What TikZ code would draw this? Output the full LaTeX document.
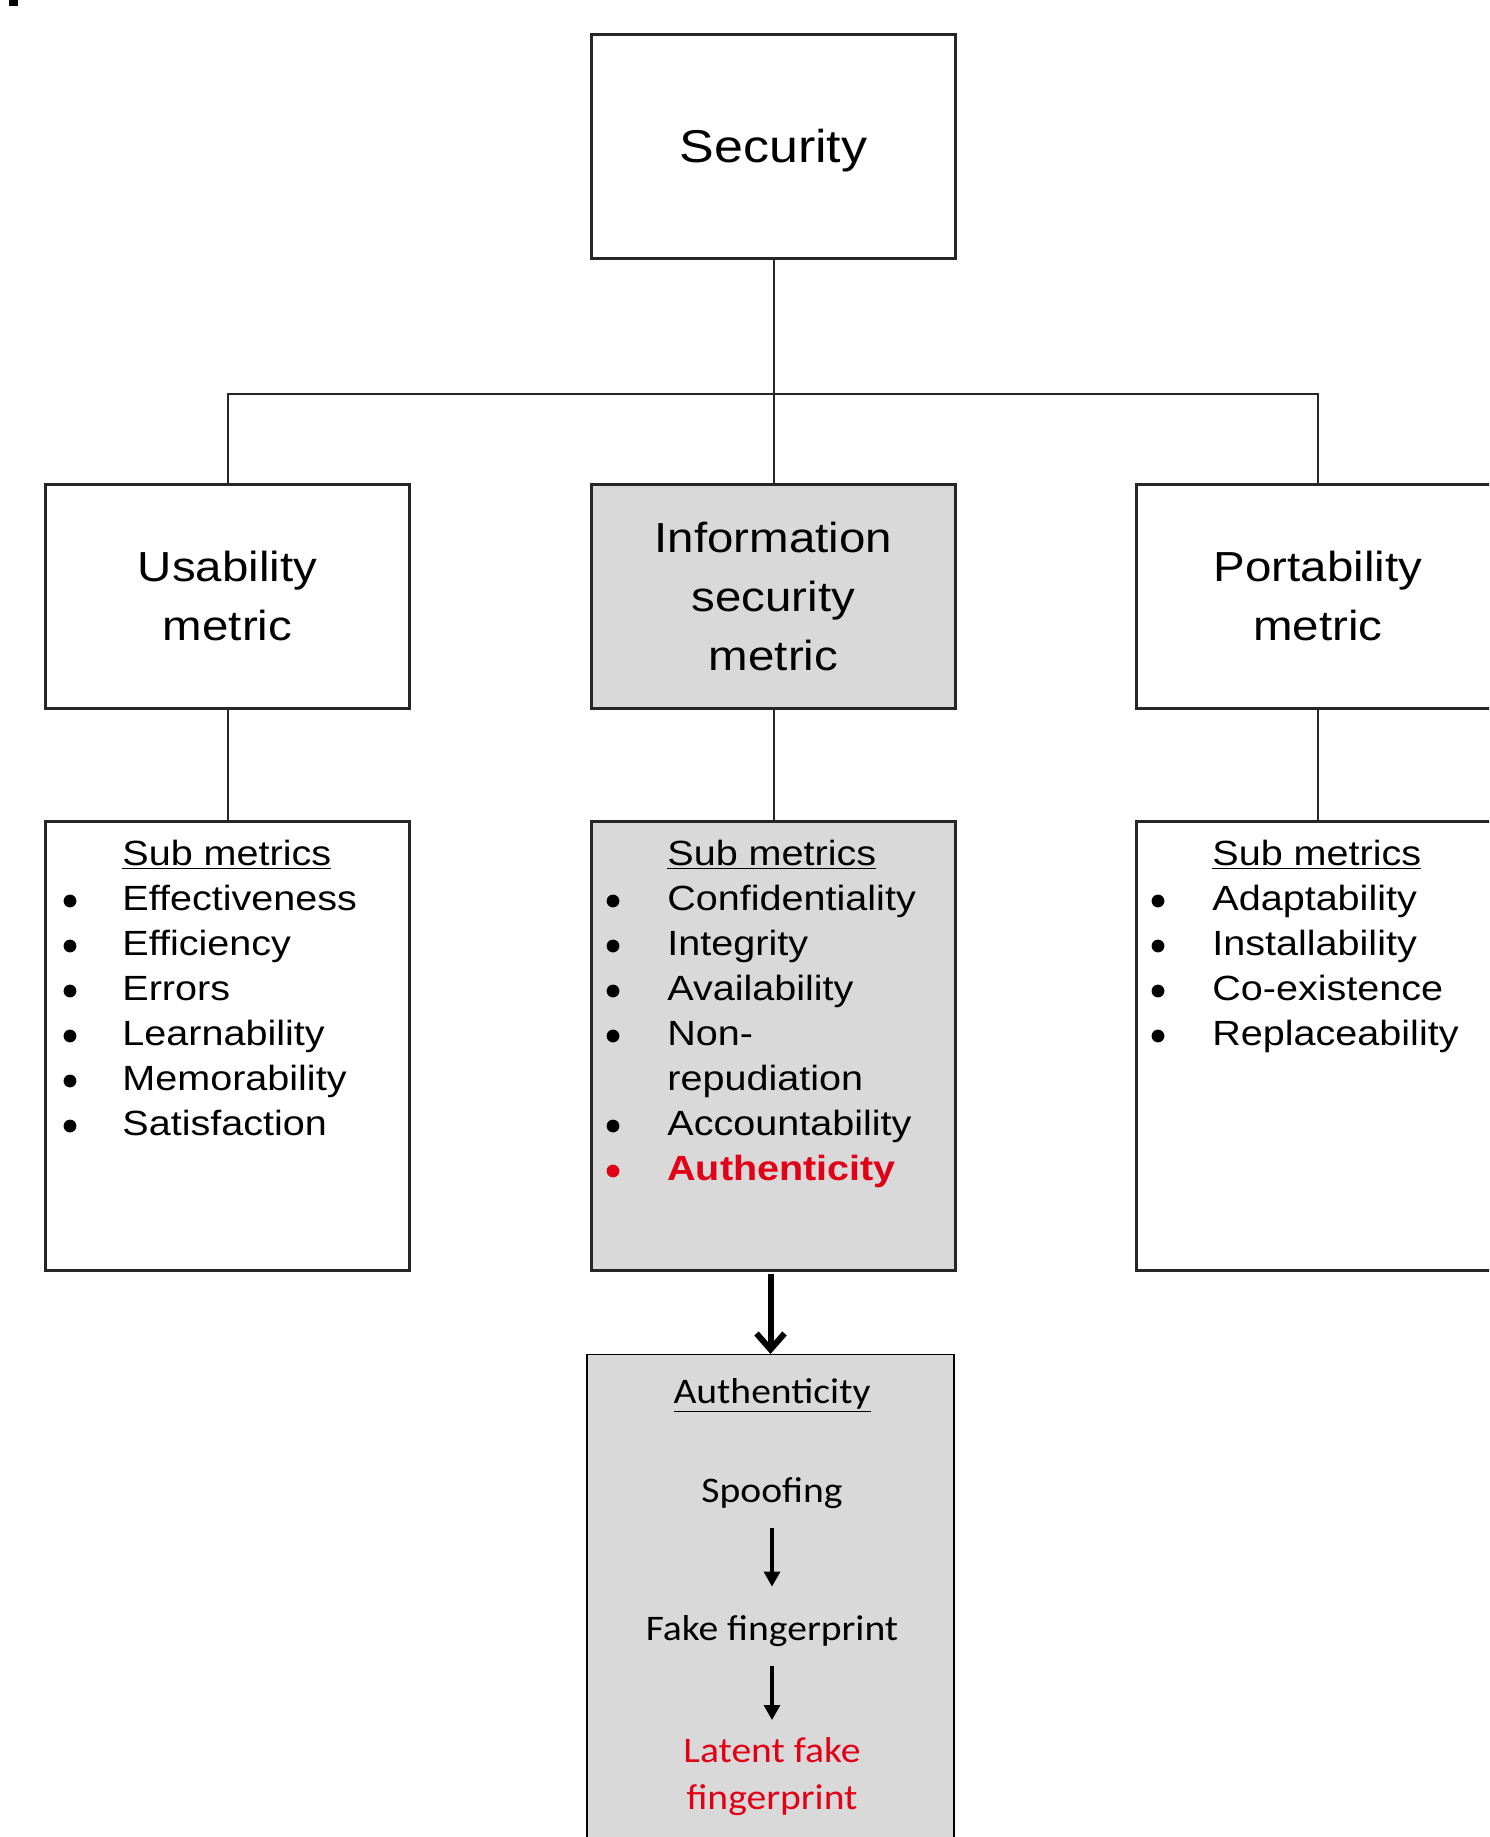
\documentclass[tikz,border=0pt]{standalone}
\usepackage{fontspec}
\setmainfont{Liberation Sans}[FakeStretch=1.13]
\newfontfamily\calibri{Carlito}[FakeStretch=1.1]
\usepackage{tikz}
\usetikzlibrary{arrows.meta, positioning}
\definecolor{boxBlack}{gray}{0.15}
\definecolor{panelGray}{gray}{0.85}
\definecolor{alertRed}{RGB}{226,0,22}

\begin{document}
\begin{tikzpicture}[x=0.5pt, y=0.5pt, >={Triangle[length=7.5pt,width=8pt]},
    metric/.style={draw=boxBlack, line width=1.5pt, minimum width=182pt, minimum height=112pt,
        align=center, inner sep=0pt, font=\fontsize{21}{29.5}\selectfont},
    subbox/.style={draw=boxBlack, line width=1.5pt, minimum width=182pt, minimum height=224.5pt, inner sep=0pt},
    sublist/.style={anchor=base west, inner sep=0pt, font=\fontsize{17.5}{22.5}\selectfont},
    listdot/.style={fill=black},
    link/.style={line width=1pt, boxBlack},
    authtext/.style={inner sep=0pt, font=\calibri\fontsize{18}{20.5}\selectfont},
    flow/.style={->, line width=1.6pt, shorten <=9.5pt}]

    \useasboundingbox (0,0) rectangle (1489,-1837);
    \clip (0,0) rectangle (1489,-1837);

    \fill[black] (9,0) rectangle (18,-6);

    % top level
    \node[metric, font=\fontsize{23}{28}\selectfont, text depth=0pt] (sec) at (773.5,-146) {Security};
    \coordinate (split) at (773.5,-394);

    % metrics
    \node[metric] (usab) at (227.5,-596) {Usability\\metric};
    \node[metric, fill=panelGray] (info) at (773.5,-596) {Information\\security\\metric};
    \node[metric] (port) at (1318,-596) {Portability\\metric};

    % sub metrics
    \node[subbox] (usabsub) at (227.5,-1045.5) {};
    \node[subbox, fill=panelGray] (infosub) at (773.5,-1045.5) {};
    \node[subbox] (portsub) at (1318,-1045.5) {};

    \draw[link] (sec.south) -- (info.north);
    \draw[link] (usab.north) |- (split) -| (port.north);
    \draw[link] (usab.south) -- (usabsub.north);
    \draw[link] (info.south) -- (infosub.north);
    \draw[link] (port.south) -- (portsub.north);

    \node[sublist] (usablist) at (122,-865) {\begin{tabular}[t]{@{}l@{}}
        \underline{Sub metrics}\\
        Effectiveness\\
        Efficiency\\
        Errors\\
        Learnability\\
        Memorability\\
        Satisfaction
    \end{tabular}};
    \node[sublist] (infolist) at (667,-865) {\begin{tabular}[t]{@{}l@{}}
        \underline{Sub metrics}\\
        Confidentiality\\
        Integrity\\
        Availability\\
        Non-\\
        repudiation\\
        Accountability\\
        \textcolor{alertRed}{\bfseries Authenticity}
    \end{tabular}};
    \node[sublist] (portlist) at (1212,-865) {\begin{tabular}[t]{@{}l@{}}
        \underline{Sub metrics}\\
        Adaptability\\
        Installability\\
        Co-existence\\
        Replaceability
    \end{tabular}};

    % bullets
    \foreach \row in {1,...,6}
        \fill[listdot] (70,-856-45*\row) circle (3.2pt);
    \foreach \row in {1,2,3,4,6}
        \fill[listdot] (613,-856-45*\row) circle (3.2pt);
    \fill[listdot, fill=alertRed] (613,-856-45*7) circle (3.2pt);
    \foreach \row in {1,...,4}
        \fill[listdot] (1158,-856-45*\row) circle (3.2pt);

    % authenticity detail
    \node[draw=black, line width=0.6pt, fill=panelGray, minimum width=183.5pt, minimum height=250pt,
        anchor=north] (authbox) at (770.5,-1354) {};
    \draw[line width=3pt, -{Straight Barb[length=8pt,width=14pt]}, shorten <=1pt]
        (infosub.south -| authbox.north) -- (authbox.north);

    \node[authtext, anchor=base] (authtitle) at (772,-1403) {\underline{Authenticity}};
    \node[authtext, anchor=base] (spoof) at (772,-1502) {Spoofing};
    \node[authtext, anchor=base] (fake) at (772,-1640) {Fake fingerprint};
    \node[authtext, anchor=north, align=center, text=alertRed, font=\calibri\fontsize{18}{23.5}\selectfont]
        (latent) at (772,-1737) {Latent fake\\fingerprint};

    \draw[flow, shorten >=14pt] (spoof) -- (fake);
    \draw[flow, shorten >=8.5pt] (fake) -- (latent);
\end{tikzpicture}
\end{document}
